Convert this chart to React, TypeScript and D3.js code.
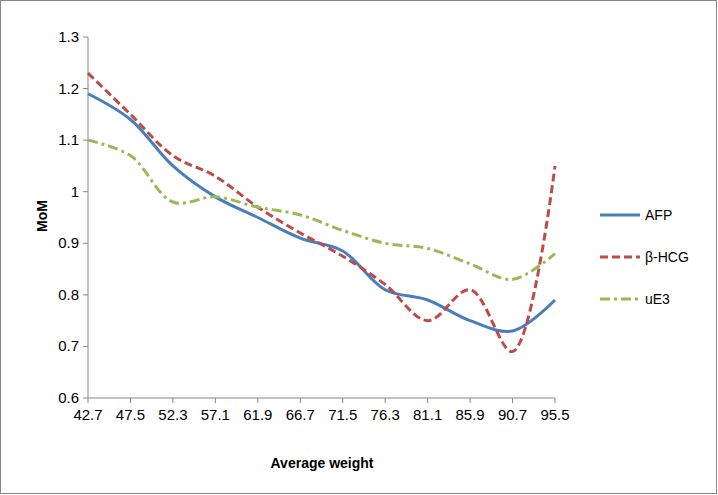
import React from 'react';
import * as d3 from 'd3';

const categories = ['42.7', '47.5', '52.3', '57.1', '61.9', '66.7', '71.5', '76.3', '81.1', '85.9', '90.7', '95.5'];
const afp = [1.19, 1.14, 1.05, 0.99, 0.95, 0.91, 0.885, 0.81, 0.79, 0.75, 0.73, 0.79];
const hcg = [1.23, 1.15, 1.07, 1.03, 0.97, 0.92, 0.875, 0.82, 0.75, 0.81, 0.69, 1.05];
const ue3 = [1.10, 1.07, 0.98, 0.99, 0.97, 0.955, 0.925, 0.90, 0.89, 0.86, 0.83, 0.88];
const yTicks = [0.6, 0.7, 0.8, 0.9, 1, 1.1, 1.2, 1.3];

const series = [
  { name: 'AFP', values: afp, color: '#4a7ebb', dash: '', width: 3 },
  { name: 'β-HCG', values: hcg, color: '#be4b48', dash: '8,4', width: 3 },
  { name: 'uE3', values: ue3, color: '#98b954', dash: '10,4,3,4', width: 3 },
];

export default function App() {
  const W = 718, H = 495;
  const x = d3.scalePoint<string>().domain(categories).range([88, 555]);
  const y = d3.scaleLinear().domain([0.6, 1.3]).range([398, 37]);
  const line = d3.line<number>()
    .x((_, i) => x(categories[i])!)
    .y(d => y(d))
    .curve(d3.curveCatmullRom.alpha(0.5));
  const font = 'Liberation Sans, Arial, sans-serif';

  return (
    <svg width={W} height={H} style={{ position: 'absolute', left: 0, top: 0 }} fontFamily={font}>
      <rect x={0.5} y={0.5} width={W - 2} height={H - 2} fill="white" stroke="#868686" />
      <line x1={88} x2={88} y1={37} y2={398} stroke="#868686" />
      <line x1={88} x2={555} y1={398} y2={398} stroke="#868686" />
      {yTicks.map(t => (
        <g key={t}>
          <line x1={83} x2={88} y1={y(t)} y2={y(t)} stroke="#868686" />
          <text x={79} y={y(t) + 5} textAnchor="end" fontSize={15}>{t}</text>
        </g>
      ))}
      {categories.map((c, i) => {
        const step = x.step();
        const px = x(c)!;
        return (
          <g key={c}>
            <line x1={px} x2={px} y1={398} y2={403} stroke="#868686" />
            <text x={px} y={420} textAnchor="middle" fontSize={15}>{c}</text>
          </g>
        );
      })}
      {series.map(s => (
        <path key={s.name} d={line(s.values)!} fill="none" stroke={s.color}
          strokeWidth={s.width} strokeDasharray={s.dash || undefined} />
      ))}
      {series.map((s, i) => (
        <g key={s.name} transform={`translate(600,${215 + i * 42})`}>
          <line x1={0} x2={40} y1={0} y2={0} stroke={s.color} strokeWidth={3}
            strokeDasharray={s.dash || undefined} />
          <text x={45} y={5} fontSize={14}>{s.name}</text>
        </g>
      ))}
      <text transform="translate(47,216) rotate(-90)" textAnchor="middle" fontSize={14} fontWeight="bold">MoM</text>
      <text x={322} y={468} textAnchor="middle" fontSize={14} fontWeight="bold">Average weight</text>
    </svg>
  );
}
